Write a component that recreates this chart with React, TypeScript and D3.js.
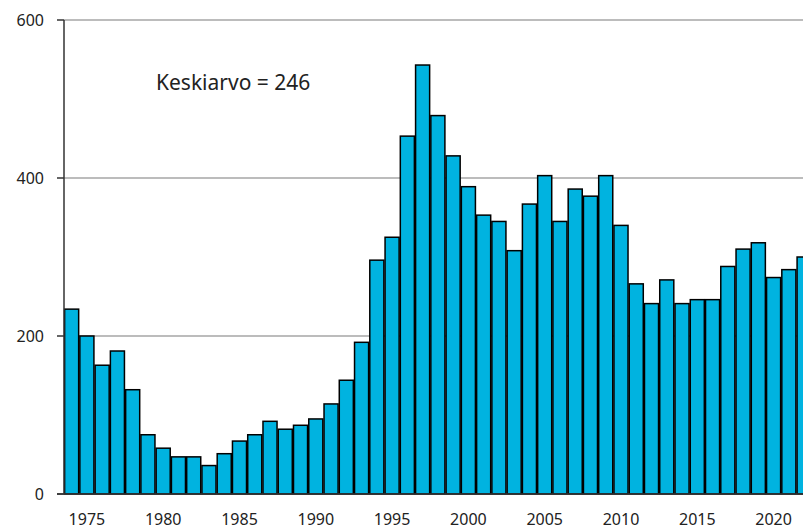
import React from "react";
import * as d3 from "d3";

const years: number[] = [
  1974, 1975, 1976, 1977, 1978, 1979, 1980, 1981, 1982, 1983,
  1984, 1985, 1986, 1987, 1988, 1989, 1990, 1991, 1992, 1993,
  1994, 1995, 1996, 1997, 1998, 1999, 2000, 2001, 2002, 2003,
  2004, 2005, 2006, 2007, 2008, 2009, 2010, 2011, 2012, 2013,
  2014, 2015, 2016, 2017, 2018, 2019, 2020, 2021, 2022,
];
const values: number[] = [
  234, 200, 163, 181, 132, 75, 58, 47, 47, 36,
  51, 67, 75, 92, 82, 87, 95, 114, 144, 192,
  296, 325, 453, 543, 479, 428, 389, 353, 345, 308,
  367, 403, 345, 386, 377, 403, 340, 266, 241, 271,
  241, 246, 246, 288, 310, 318, 274, 284, 300,
];
const yTicks: number[] = [0, 200, 400, 600];
const xLabels: number[] = [1975, 1980, 1985, 1990, 1995, 2000, 2005, 2010, 2015, 2020];
const annotation = "Keskiarvo = 246";

const W = 803;
const H = 529;
const left = 64;
const top = 20;
const bottom = 494;
const step = 15.26;

export default function App() {
  const x = d3
    .scaleBand<number>()
    .domain(years)
    .range([left, left + years.length * step])
    .paddingInner(0)
    .paddingOuter(0);
  const y = d3.scaleLinear().domain([0, 600]).range([bottom, top]);
  const bw = x.bandwidth();
  const font = "'Noto Sans', 'Open Sans', sans-serif";

  return (
    <svg
      width={W}
      height={H}
      style={{ position: "absolute", left: 0, top: 0, background: "#fff" }}
      fontFamily={font}
    >
      {yTicks
        .filter((t) => t > 0)
        .map((t) => (
          <line
            key={"g" + t}
            x1={left}
            x2={W}
            y1={y(t)}
            y2={y(t)}
            stroke="#a6a6a6"
            strokeWidth={1.5}
          />
        ))}
      {years.map((yr, i) => {
        const x0 = x(yr) as number;
        const yv = y(values[i]);
        return (
          <rect
            key={yr}
            x={x0 + 0.6}
            y={yv}
            width={bw - 1.2}
            height={bottom - yv}
            fill="#00B3E0"
            stroke="#000"
            strokeWidth={1.5}
          />
        );
      })}
      <line x1={left - 7} x2={W} y1={bottom} y2={bottom} stroke="#333" strokeWidth={1.5} />
      <line x1={left} x2={left} y1={top} y2={bottom} stroke="#333" strokeWidth={1.5} />
      {yTicks.map((t) => (
        <g key={"t" + t}>
          <line x1={left - 7} x2={left} y1={y(t)} y2={y(t)} stroke="#333" strokeWidth={1.5} />
          <text
            x={44}
            y={y(t)}
            dy="0.35em"
            textAnchor="end"
            fontSize={16}
            fill="#222"
          >
            {t}
          </text>
        </g>
      ))}
      {xLabels.map((yr) => (
        <text
          key={"x" + yr}
          x={(x(yr) as number) + bw / 2}
          y={525}
          textAnchor="middle"
          fontSize={16}
          fill="#222"
        >
          {yr}
        </text>
      ))}
      <text x={156} y={90} fontSize={21} fill="#222">
        {annotation}
      </text>
    </svg>
  );
}
